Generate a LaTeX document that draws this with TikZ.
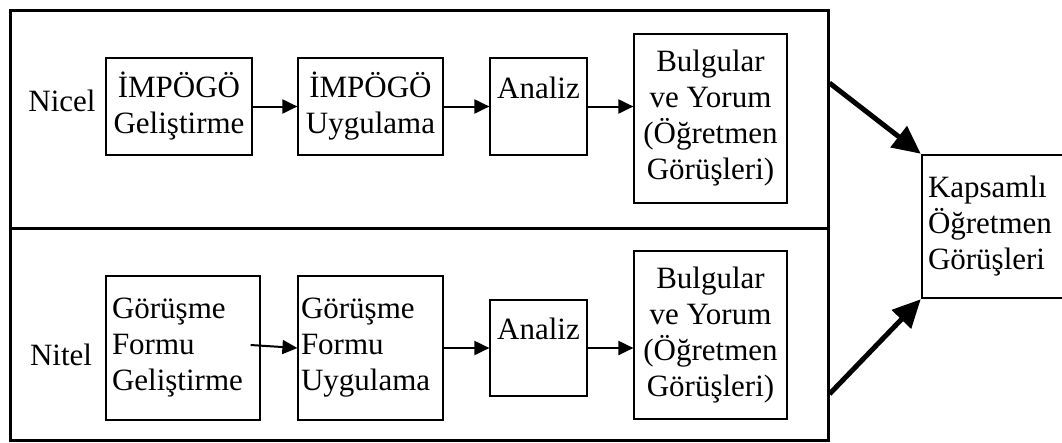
\documentclass[tikz,border=0pt]{standalone}
\usepackage{fontspec}
\setmainfont{Liberation Serif}
\usetikzlibrary{positioning,calc,arrows.meta}

\tikzset{
    every node/.style={font=\fontsize{31}{36}\selectfont},
    frame/.style={draw, line width=3pt},
    stepbox/.style={draw, line width=1.2pt, inner sep=3pt, align=center},
    leftbox/.style={draw, line width=1.2pt, align=left},
    topbox/.style={stepbox, text height=21pt, text depth=38pt},
    flow/.style={-{Triangle[length=15pt,width=14pt]}, line width=2pt},
    merge/.style={-{Triangle[length=28pt,width=26pt]}, line width=5pt}
}

\begin{document}
\begin{tikzpicture}[x=1pt,y=-1pt]
    \useasboundingbox (0,0) rectangle (1062,442);

    % outer frames
    \node[frame, minimum width=818pt, minimum height=218pt] (nicelf) at (419,119) {};
    \node[frame, minimum width=818pt, minimum height=212pt] (nitelf) at (419,334) {};

    % quantitative row
    \node (nicel) at (62,101) {Nicel};
    \node[stepbox, minimum width=146pt, minimum height=97pt] (ig) at (179,106.5) {İMPÖGÖ\\Geliştirme};
    \node[stepbox, minimum width=145pt, minimum height=97pt] (iu) at (370.5,106.5) {İMPÖGÖ\\Uygulama};
    \node[topbox, minimum width=97pt, minimum height=97pt] (an1) at (538.5,106.5) {Analiz};
    \node[stepbox, minimum width=153pt, minimum height=169pt] (by1) at (710.5,118.5) {Bulgular\\ve Yorum\\(Öğretmen\\Görüşleri)};

    \draw[flow] (ig.east) -- (iu.west);
    \draw[flow] (iu.east) -- (an1.west);
    \draw[flow] (an1.east) -- (by1.west |- an1.east);

    % qualitative row
    \node (nitel) at (61,355) {Nitel};
    \node[leftbox, inner sep=6pt, text width=142pt, minimum height=144pt] (gf) at (183,348) {Görüşme\\Formu\\Geliştirme};
    \node[leftbox, inner sep=3pt, text width=139pt, minimum height=144pt] (gu) at (370.5,348) {Görüşme\\Formu\\Uygulama};
    \node[topbox, minimum width=97pt, minimum height=96pt] (an2) at (538.5,348) {Analiz};
    \node[stepbox, minimum width=153pt, minimum height=168pt] (by2) at (710.5,335) {Bulgular\\ve Yorum\\(Öğretmen\\Görüşleri)};

    \coordinate (gfout) at ($(gf.east)+(-10,-3)$);
    \draw[flow] (gfout) -- (gu.west);
    \draw[flow] (gu.east) -- (an2.west);
    \draw[flow] (an2.east) -- (by2.west |- an2.east);

    % overall result
    \node[leftbox, line width=2.5pt, inner sep=6pt, text width=148pt, minimum height=143pt] (kg) at (1002,226.5) {Kapsamlı\\Öğretmen\\Görüşleri};

    \coordinate (nicelout) at ($(nicelf.east)+(0,-36)$);
    \coordinate (nitelout) at ($(nitelf.east)+(0,60)$);
    \draw[merge] (nicelout) -- (kg.north west);
    \draw[merge] (nitelout) -- (kg.south west);
\end{tikzpicture}
\end{document}
